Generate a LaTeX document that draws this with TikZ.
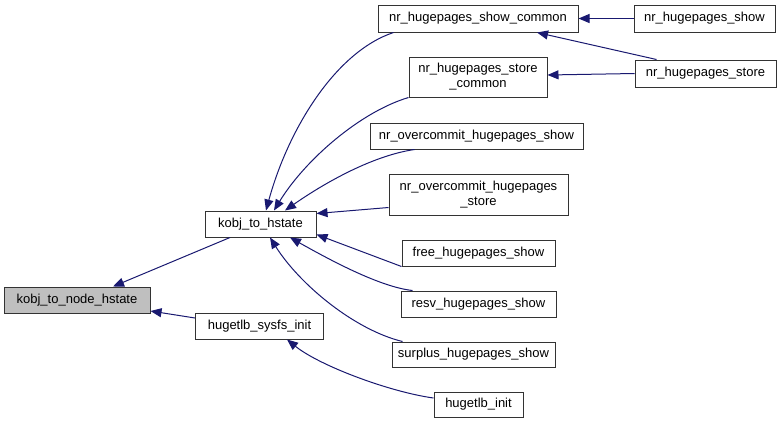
\documentclass[tikz,border=0pt]{standalone}
\usepackage{fontspec}
\setmainfont{Liberation Sans}
\usetikzlibrary{arrows.meta}
\definecolor{edgeblue}{HTML}{191970}
\definecolor{boxgray}{HTML}{BFBFBF}
\tikzset{
  fn/.style={draw=black!80, line width=1pt, fill=white, inner sep=0pt, align=center,
    font=\fontsize{13}{15}\selectfont},
  arr/.style={draw=edgeblue, line width=1pt, {Triangle[length=11pt,width=9pt]}-},
}
\begin{document}
\begin{tikzpicture}[x=1pt,y=-1pt]
\useasboundingbox (0,0) rectangle (781,424);
\node[fn, fill=boxgray, minimum width=146pt, minimum height=26pt] (kn) at (77,300) {kobj\_to\_node\_hstate};
\node[fn, minimum width=111pt, minimum height=26pt] (khs) at (260.5,224) {kobj\_to\_hstate};
\node[fn, minimum width=128pt, minimum height=26pt] (ss) at (259.5,326) {hugetlb\_sysfs\_init};
\node[fn, minimum width=200pt, minimum height=27pt] (sc) at (478,18.5) {nr\_hugepages\_show\_common};
\node[fn, minimum width=141pt, minimum height=27pt] (ns) at (704.5,18.5) {nr\_hugepages\_show};
\node[fn, minimum width=138pt, minimum height=40pt] (stc) at (478,77) {nr\_hugepages\_store\\\_common};
\node[fn, minimum width=141pt, minimum height=27pt] (nst) at (705.5,73.5) {nr\_hugepages\_store};
\node[fn, minimum width=213pt, minimum height=26pt] (ocs) at (476.5,136) {nr\_overcommit\_hugepages\_show};
\node[fn, minimum width=179pt, minimum height=41pt] (ocst) at (478.5,194.5) {nr\_overcommit\_hugepages\\\_store};
\node[fn, minimum width=153pt, minimum height=26pt] (fh) at (478.5,253) {free\_hugepages\_show};
\node[fn, minimum width=155pt, minimum height=26pt] (rh) at (478.5,304) {resv\_hugepages\_show};
\node[fn, minimum width=163pt, minimum height=25pt] (sh) at (473.5,354.5) {surplus\_hugepages\_show};
\node[fn, minimum width=89pt, minimum height=25pt] (hi) at (478.5,404.5) {hugetlb\_init};

% edges into kobj_to_node_hstate
\draw[arr] ([xshift=36pt]kn.north) -- ([xshift=-30.5pt]khs.south);
\draw[arr] ([yshift=-11pt]kn.east) -- ([yshift=8pt]ss.west);
% edges into kobj_to_hstate
\draw[arr] ([xshift=5.5pt]khs.north) .. controls (288,130) and (335,52) .. ([xshift=16pt]sc.south west);
\draw[arr] ([xshift=13.5pt]khs.north) .. controls (305,160) and (360,112) .. (stc.south west);
\draw[arr] ([xshift=24.5pt]khs.north) .. controls (320,186) and (370,156) .. ([xshift=45pt]ocs.south west);
\draw[arr] ([yshift=-3pt]khs.north east) -- ([yshift=8pt]ocst.south west);
\draw[arr] ([yshift=3pt]khs.south east) -- (fh.south west);
\draw[arr] ([xshift=29.5pt]khs.south) .. controls (330,260) and (380,287) .. ([xshift=12pt]rh.north west);
\draw[arr] ([xshift=9.5pt]khs.south) .. controls (300,285) and (355,330) .. ([xshift=11pt]sh.north west);
% hugetlb_init -> hugetlb_sysfs_init
\draw[arr] ([xshift=27.5pt]ss.south) .. controls (320,366) and (390,392) .. ([yshift=6.5pt]hi.west);
% right column
\draw[arr] (sc.east) -- (ns.west);
\draw[arr] ([xshift=59pt]sc.south) -- ([xshift=-49pt]nst.north);
\draw[arr] ([yshift=2pt]stc.east) -- (nst.west);
\end{tikzpicture}
\end{document}
